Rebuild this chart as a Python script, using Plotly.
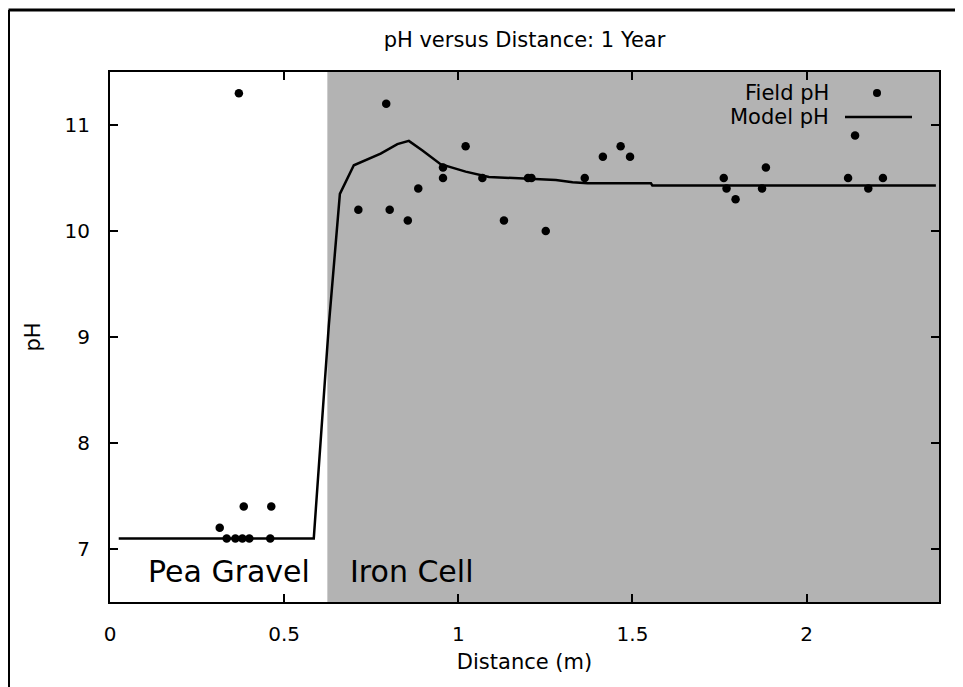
import plotly.graph_objects as go

# ---- data ----
field_x = [0.37, 0.315, 0.335, 0.36, 0.38, 0.40, 0.46, 0.384, 0.463,
           0.713, 0.793, 0.803, 0.855, 0.885, 0.956, 0.956, 1.021, 1.069,
           1.131, 1.200, 1.210, 1.251, 1.363, 1.415, 1.466, 1.493,
           1.762, 1.770, 1.796, 1.872, 1.883, 2.119, 2.139, 2.177, 2.219]
field_ph = [11.3, 7.2, 7.1, 7.1, 7.1, 7.1, 7.1, 7.4, 7.4,
            10.2, 11.2, 10.2, 10.1, 10.4, 10.6, 10.5, 10.8, 10.5,
            10.1, 10.5, 10.5, 10.0, 10.5, 10.7, 10.8, 10.7,
            10.5, 10.4, 10.3, 10.4, 10.6, 10.5, 10.9, 10.4, 10.5]

model_x = [0.025, 0.585, 0.628, 0.660, 0.700, 0.777, 0.825, 0.858, 0.897,
           0.949, 1.021, 1.088, 1.280, 1.328, 1.371, 1.553, 1.557, 1.874, 2.371]
model_ph = [7.1, 7.1, 9.1, 10.35, 10.62, 10.73, 10.82, 10.85, 10.76,
            10.63, 10.56, 10.51, 10.48, 10.46, 10.45, 10.45, 10.43, 10.43, 10.43]

iron_cell_start = 0.624
x_ticks = [0, 0.5, 1, 1.5, 2]
x_tick_labels = ["0", "0.5", "1", "1.5", "2"]
y_ticks = [7, 8, 9, 10, 11]

FONT = "DejaVu Sans, Arial, sans-serif"
FS_TICK = 20
FS_TEXT = 21

# the page body adds an 8 px offset; plot area placed at screen x 110-939, y 72-602
OFF = 8
L, T = 110 - OFF, 72 - OFF
PW, PH = 829, 530
W, H = 963 - OFF, 687 - OFF


def px(sx):
    return (sx - 110) / PW


def py(sy):
    return (602 - sy) / PH


fig = go.Figure()
fig.add_trace(go.Scatter(x=model_x, y=model_ph, mode="lines", name="Model pH",
                         line=dict(color="black", width=2.5), showlegend=False))
fig.add_trace(go.Scatter(x=field_x, y=field_ph, mode="markers", name="Field pH",
                         marker=dict(color="black", size=8.5), showlegend=False))

# grey iron cell region
fig.add_shape(type="rect", xref="x", yref="paper", x0=iron_cell_start, x1=2.38,
              y0=0, y1=1, fillcolor="#b3b3b3", line=dict(width=0), layer="below")

# outer frame (left and top visible)
fig.add_shape(type="line", xref="paper", yref="paper", x0=px(8.5), x1=px(8.5),
              y0=py(700), y1=py(10), line=dict(color="black", width=3))
fig.add_shape(type="line", xref="paper", yref="paper", x0=px(8.5), x1=px(970),
              y0=py(10), y1=py(10), line=dict(color="black", width=3))

# legend (gnuplot style key)
fig.add_annotation(xref="paper", yref="paper", x=px(831), y=py(93),
                   text="Field pH", showarrow=False, xanchor="right", yanchor="middle",
                   font=dict(family=FONT, size=FS_TEXT, color="black"))
fig.add_annotation(xref="paper", yref="paper", x=px(831), y=py(117),
                   text="Model pH", showarrow=False, xanchor="right", yanchor="middle",
                   font=dict(family=FONT, size=FS_TEXT, color="black"))
fig.add_shape(type="circle", xref="paper", yref="paper",
              x0=px(873), x1=px(881), y0=py(97), y1=py(89),
              fillcolor="black", line=dict(width=0))
fig.add_shape(type="line", xref="paper", yref="paper",
              x0=px(845), x1=px(912), y0=py(117), y1=py(117),
              line=dict(color="black", width=2.5))

# region labels
fig.add_annotation(x=0.342, y=6.79, text="Pea Gravel", showarrow=False,
                   font=dict(family=FONT, size=30, color="black"))
fig.add_annotation(x=0.868, y=6.79, text="Iron Cell", showarrow=False,
                   font=dict(family=FONT, size=30, color="black"))

fig.update_layout(
    width=W, height=H,
    margin=dict(l=L, r=W - L - PW, t=T, b=H - T - PH),
    paper_bgcolor="white", plot_bgcolor="white",
    title=dict(text="pH versus Distance: 1 Year", x=0.5, xref="paper",
               y=1 - (40 - OFF) / H, yanchor="middle",
               font=dict(family=FONT, size=FS_TEXT, color="black")),
    font=dict(family=FONT, size=FS_TICK, color="black"),
    showlegend=False,
)
fig.update_xaxes(range=[0, 2.38], tickvals=x_ticks, ticktext=x_tick_labels,
                 ticks="inside", ticklen=8, tickwidth=2, tickcolor="black",
                 showline=True, linecolor="black", linewidth=2, mirror="ticks",
                 showgrid=False, zeroline=False, ticklabelstandoff=13,
                 tickfont=dict(family=FONT, size=FS_TICK),
                 title=dict(text="Distance (m)", standoff=9,
                            font=dict(family=FONT, size=FS_TEXT)))
fig.update_yaxes(range=[6.5, 11.5], tickvals=y_ticks,
                 ticks="inside", ticklen=8, tickwidth=2, tickcolor="black",
                 showline=True, linecolor="black", linewidth=2, mirror="ticks",
                 showgrid=False, zeroline=False, ticklabelstandoff=14,
                 tickfont=dict(family=FONT, size=FS_TICK),
                 title=dict(text="pH", standoff=18,
                            font=dict(family=FONT, size=FS_TEXT)))

fig.write_html("out.html")
